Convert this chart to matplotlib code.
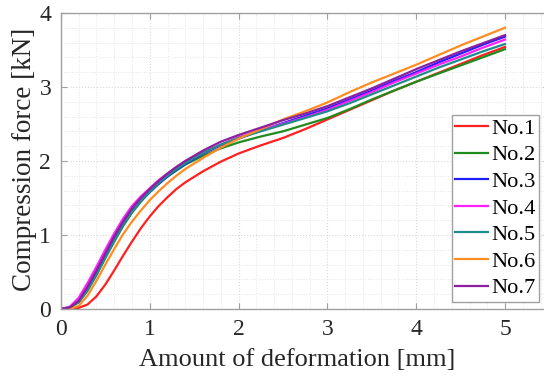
import matplotlib
matplotlib.use("Agg")
import matplotlib.pyplot as plt
from matplotlib.ticker import MultipleLocator

plt.rcParams['font.family'] = ['Liberation Serif', 'DejaVu Serif']

x = [0, 0.1, 0.2, 0.3, 0.4, 0.5, 0.6, 0.7, 0.8, 0.9, 1.0, 1.1, 1.2, 1.3, 1.4, 1.6, 1.8,
     2.0, 2.25, 2.5, 2.75, 3.0, 3.25, 3.5, 3.75, 4.0, 4.25, 4.5, 4.75, 5.0]

no1 = [0, 0.0, 0.015, 0.06, 0.17, 0.33, 0.52, 0.72, 0.91, 1.09, 1.25, 1.39, 1.51, 1.62, 1.71, 1.86, 1.99,
       2.10, 2.21, 2.31, 2.43, 2.56, 2.69, 2.82, 2.95, 3.07, 3.19, 3.31, 3.43, 3.54]
no2 = [0, 0.02, 0.09, 0.25, 0.46, 0.69, 0.91, 1.12, 1.30, 1.45, 1.58, 1.69, 1.79, 1.87, 1.95, 2.07, 2.17,
       2.25, 2.33, 2.40, 2.49, 2.58, 2.70, 2.83, 2.95, 3.07, 3.18, 3.29, 3.40, 3.51]
no3 = [0, 0.02, 0.10, 0.27, 0.48, 0.71, 0.94, 1.14, 1.32, 1.46, 1.58, 1.69, 1.79, 1.88, 1.96, 2.10, 2.21,
       2.30, 2.41, 2.51, 2.61, 2.71, 2.83, 2.95, 3.08, 3.20, 3.33, 3.45, 3.57, 3.68]
no4 = [0, 0.03, 0.15, 0.35, 0.57, 0.80, 1.02, 1.22, 1.39, 1.52, 1.63, 1.74, 1.83, 1.91, 1.98, 2.11, 2.22,
       2.32, 2.41, 2.50, 2.59, 2.69, 2.81, 2.93, 3.06, 3.18, 3.30, 3.41, 3.53, 3.64]
no5 = [0, 0.02, 0.09, 0.25, 0.46, 0.69, 0.92, 1.13, 1.31, 1.46, 1.58, 1.70, 1.80, 1.89, 1.97, 2.11, 2.22,
       2.31, 2.40, 2.49, 2.58, 2.67, 2.78, 2.90, 3.02, 3.14, 3.26, 3.37, 3.48, 3.58]
no6 = [0, 0.0, 0.04, 0.18, 0.38, 0.60, 0.81, 1.01, 1.18, 1.33, 1.47, 1.59, 1.70, 1.80, 1.89, 2.04, 2.18,
       2.30, 2.43, 2.56, 2.67, 2.79, 2.93, 3.06, 3.18, 3.30, 3.43, 3.56, 3.68, 3.80]
no7 = [0, 0.02, 0.11, 0.30, 0.52, 0.75, 0.98, 1.18, 1.36, 1.50, 1.62, 1.73, 1.83, 1.92, 2.00, 2.14, 2.26,
       2.35, 2.45, 2.55, 2.64, 2.74, 2.86, 2.98, 3.11, 3.24, 3.36, 3.48, 3.59, 3.70]

labels = ['No.1', 'No.2', 'No.3', 'No.4', 'No.5', 'No.6', 'No.7']
series = [no1, no2, no3, no4, no5, no6, no7]
colors = ['#ff1f1f', '#1f8c1f', '#1f1fff', '#ff1fff', '#1f8c8c', '#ff8c1f', '#8c1f9e']

fig = plt.figure(figsize=(5.44, 3.80), dpi=100)
ax = fig.add_axes([0.112, 0.187, 0.898, 0.779])

for ys, lab, c in zip(series, labels, colors):
    ax.plot(x, ys, color=c, lw=1.6, label=lab, solid_joinstyle='round')

ax.set_xlim(0, 5.5)
ax.set_ylim(0, 4)
ax.xaxis.set_major_locator(MultipleLocator(1))
ax.yaxis.set_major_locator(MultipleLocator(1))
ax.xaxis.set_minor_locator(MultipleLocator(0.2))
ax.yaxis.set_minor_locator(MultipleLocator(0.2))
ax.grid(which='major', color='#d8d8d8', ls=':', lw=0.8)
ax.grid(which='minor', color='#e4e4e4', ls=':', lw=0.7)
ax.tick_params(which='major', direction='in', top=True, right=True, length=4,
               color='#a0a0a0', labelsize=17, pad=7, labelcolor='#262626')
ax.tick_params(which='minor', length=0)
for s in ax.spines.values():
    s.set_color('#a0a0a0')
    s.set_linewidth(1.0)

ax.set_xlabel('Amount of deformation [mm]', fontsize=19, color='#262626')
ax.set_ylabel('Compression force [kN]', fontsize=19.5, color='#262626')
ax.xaxis.set_label_coords(0.484, -0.135)
ax.yaxis.set_label_coords(-0.05, 0.505)

leg = ax.legend(loc='lower right', bbox_to_anchor=(0.979, 0.024), fontsize=16.2,
                handlelength=1.45, handletextpad=0.15, labelspacing=0.26,
                borderpad=0.15, borderaxespad=0.0, fancybox=False, framealpha=1)
leg.get_frame().set_edgecolor('#a0a0a0')
leg.get_frame().set_linewidth(1.0)

fig.savefig('out.png', dpi=100)
